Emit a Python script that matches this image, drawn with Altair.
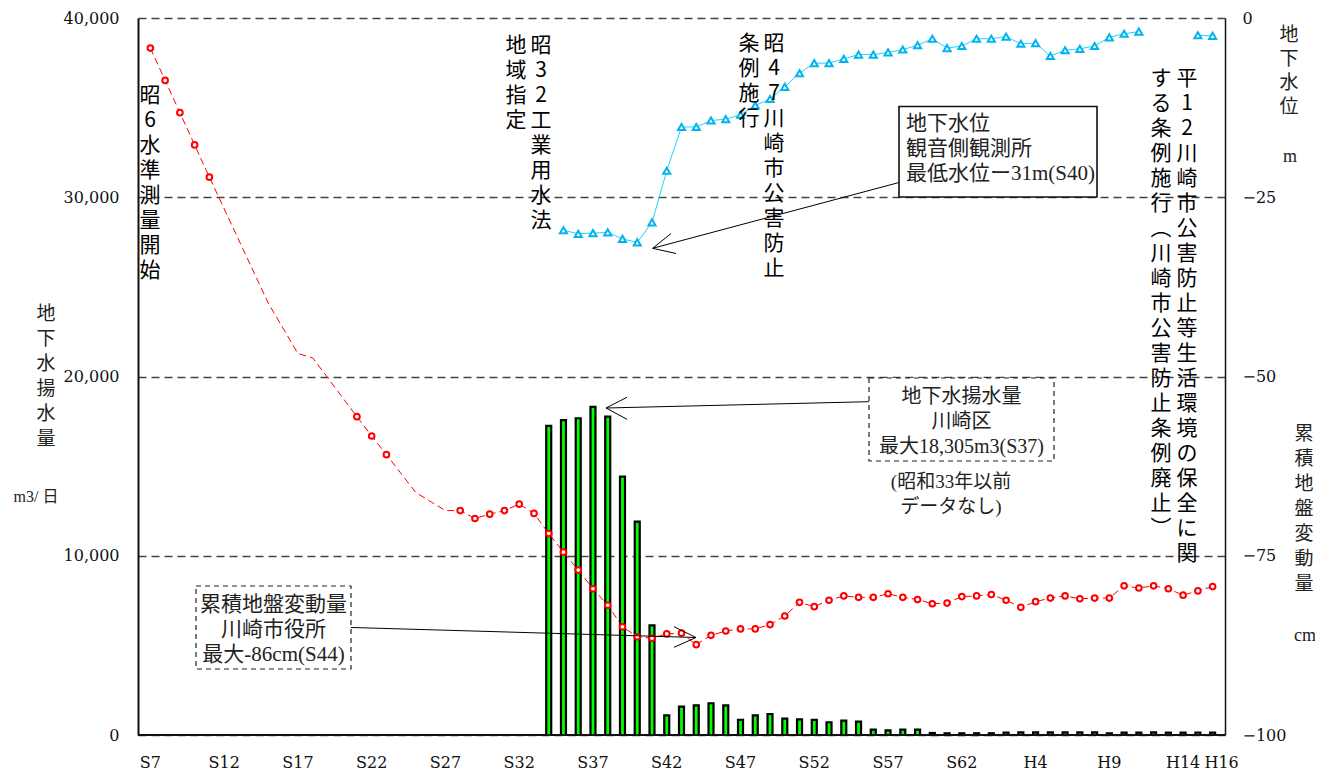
import altair as alt
import pandas as pd

# ---------------- data ----------------
# groundwater pumping, Kawasaki ward (m3/day)
pump_years = list(range(1959, 2005))
pump_values = [17250, 17570, 17670, 18305, 17760, 14410, 11900, 6120, 1100, 1580,
               1655, 1770, 1655, 840, 1100, 1160, 910, 875, 840, 710,
               800, 745, 300, 260, 300, 300, 112, 95, 95, 95,
               95, 130, 150, 150, 150, 150, 150, 150, 95, 130,
               130, 150, 130, 130, 140, 130]

# cumulative ground subsidence, Kawasaki city hall (cm) - measured years (markers)
sub_years = [1932, 1933, 1934, 1935, 1936, 1946, 1947, 1948] + list(range(1953, 2005))
sub_values = [-4.2, -8.7, -13.2, -17.7, -22.2, -55.6, -58.3, -60.9,
              -68.7, -69.8, -69.2, -68.7, -67.8, -69.1, -71.9, -74.5, -77.0, -79.6,
              -81.9, -84.9, -86.3, -86.5, -85.9, -85.8, -87.4, -86.1, -85.5, -85.2,
              -85.2, -84.6, -83.4, -81.5, -82.1, -81.2, -80.6, -80.8, -80.8, -80.3,
              -80.8, -81.1, -81.7, -81.6, -80.7, -80.6, -80.4, -81.2, -82.2, -81.4,
              -80.9, -80.6, -81.0, -80.9, -80.9, -79.2, -79.5, -79.2, -79.6, -80.5,
              -79.9, -79.3]
# line-only vertices (no markers)
gap_years = [1940, 1942, 1943, 1950, 1952]
gap_values = [-39.8, -46.8, -47.4, -66.2, -68.7]

# groundwater level, Kannongawa station (m)
level_years = list(range(1960, 2000)) + [2003, 2004]
level_values = [-29.6, -30.1, -30.0, -29.9, -30.8, -31.3, -28.5, -21.3, -15.2, -15.2,
                -14.3, -14.1, -13.5, -12.2, -11.3, -9.6, -7.7, -6.3, -6.3, -5.7,
                -5.1, -5.1, -4.8, -4.4, -3.8, -2.9, -4.2, -3.9, -2.9, -2.9,
                -2.6, -3.6, -3.5, -5.3, -4.5, -4.3, -3.9, -2.7, -2.2, -1.9,
                -2.4, -2.5]
level_segment = [1 if y < 2000 else 2 for y in level_years]

tick_years = [1932, 1937, 1942, 1947, 1952, 1957, 1962, 1967, 1972, 1977,
              1982, 1987, 1992, 1997, 2002, 2004]
tick_labels = ['S7', 'S12', 'S17', 'S22', 'S27', 'S32', 'S37', 'S42', 'S47', 'S52',
               'S57', 'S62', 'H4', 'H9', 'H14', 'H16']
left_ticks = [0, 10000, 20000, 30000, 40000]
right_ticks = [0, -25, -50, -75, -100]

# ---------------- layout ----------------
PAD_L, PAD_T, PAD_R, PAD_B = 130, 10, 90, 38
W, H = 1087, 717
X0, Y0 = 8 + PAD_L, 8 + PAD_T  # absolute page position of the plot origin

GOTHIC = "Noto Sans CJK JP"
MIX = "Liberation Serif, Noto Sans CJK JP"
AXFONT = "DejaVu Serif"

xscale = alt.Scale(domain=[1931.5, 2004.5], nice=False, zero=False)
lscale = alt.Scale(domain=[0, 40000], nice=False)
rscale = alt.Scale(domain=[-100, 0], nice=False)

left_axis = alt.Axis(values=left_ticks, format=',d', title=None, ticks=False, tickSize=0,
                     labelPadding=19, labelFont=AXFONT, labelFontSize=16, labelColor='#111',
                     grid=True, gridDash=[8, 5], gridColor='#444', gridWidth=1.3, orient='left',
                     domainColor='#111', domainWidth=2, labelFlush=False)

right_axis = alt.Axis(values=right_ticks, orient='right', title=None, ticks=False, tickSize=0,
                      labelPadding=17, labelFont=AXFONT, labelFontSize=16, labelColor='#111',
                      grid=False, domainColor='#111', domainWidth=1.5, labelFlush=False)

# ---------------- data marks ----------------
pump_df = pd.DataFrame({'year': pump_years, 'pump': pump_values})
bars = alt.Chart(pump_df).mark_bar(size=5, fill='#00FF00', stroke='black', strokeWidth=2.2).encode(
    x=alt.X('year:Q', scale=xscale, axis=None),
    y=alt.Y('pump:Q', scale=lscale, axis=left_axis),
)

sub_df = pd.DataFrame({'year': sub_years, 'val': sub_values})
sub_line_df = pd.DataFrame({'year': sub_years + gap_years,
                            'val': sub_values + gap_values}).sort_values('year')
level_df = pd.DataFrame({'year': level_years, 'val': level_values, 'seg': level_segment})

red_line = alt.Chart(sub_line_df).mark_line(color='#FF0000', strokeWidth=1, strokeDash=[7, 4]).encode(
    x=alt.X('year:Q', scale=xscale, axis=None),
    y=alt.Y('val:Q', scale=rscale, axis=right_axis),
    order='year:Q',
)
red_pts = alt.Chart(sub_df).mark_point(shape='circle', size=32, filled=True, fill='white',
                                       stroke='#FF0000', strokeWidth=2, opacity=1).encode(
    x=alt.X('year:Q', scale=xscale, axis=None),
    y=alt.Y('val:Q', scale=rscale, axis=None),
)
blue_line = alt.Chart(level_df).mark_line(color='#22D4FF', strokeWidth=1).encode(
    x=alt.X('year:Q', scale=xscale, axis=None),
    y=alt.Y('val:Q', scale=rscale, axis=None),
    detail='seg:N',
    order='year:Q',
)
blue_pts = alt.Chart(level_df).mark_point(shape='triangle-up', size=50, filled=True, fill='white',
                                          stroke='#00B4F0', strokeWidth=2, opacity=1).encode(
    x=alt.X('year:Q', scale=xscale, axis=None),
    y=alt.Y('val:Q', scale=rscale, axis=None),
)

# ---------------- x axis (labels placed through the x scale) ----------------
ONE = alt.InlineData(values=[{"k": 1}])
tick_df = pd.DataFrame({'year': tick_years, 'label': tick_labels})
x_labels_main = alt.Chart(tick_df).transform_filter('datum.year < 2004').mark_text(
    baseline='top', align='center', font=AXFONT, fontSize=16, color='#111').encode(
    x=alt.X('year:Q', scale=xscale, axis=None), y=alt.value(H + 20), text='label:N')
x_labels_last = alt.Chart(tick_df).transform_filter('datum.year >= 2004').mark_text(
    baseline='top', align='center', font=AXFONT, fontSize=16, color='#111', dx=9).encode(
    x=alt.X('year:Q', scale=xscale, axis=None), y=alt.value(H + 20), text='label:N')
x_domain = alt.Chart(ONE).mark_rule(color='#111', strokeWidth=2).encode(
    x=alt.value(0), x2=alt.value(W), y=alt.value(H))

# ---------------- annotations ----------------


def txt(lines, x, y, size=21, font=GOTHIC, align='center', baseline='top', lh=25, color='black'):
    return alt.Chart(ONE).mark_text(align=align, baseline=baseline, font=font, fontSize=size,
                                    lineHeight=lh, color=color, text=lines).encode(
        x=alt.value(x - X0), y=alt.value(y - Y0))


def seg(x1, y1, x2, y2, width=1.0, color='black'):
    return alt.Chart(ONE).mark_rule(color=color, strokeWidth=width).encode(
        x=alt.value(x1 - X0), y=alt.value(y1 - Y0), x2=alt.value(x2 - X0), y2=alt.value(y2 - Y0))


def box(x1, y1, x2, y2, dash=None, width=1.2, color='#222'):
    kw = dict(fill='white', stroke=color, strokeWidth=width)
    if dash:
        kw['strokeDash'] = dash
    return alt.Chart(ONE).mark_rect(**kw).encode(
        x=alt.value(x1 - X0), y=alt.value(y1 - Y0), x2=alt.value(x2 - X0), y2=alt.value(y2 - Y0))


ann = []
# vertical event notes
ann.append(txt(list("昭6水準測量開始"), 150, 85))
ann.append(txt(list("昭32工業用水法"), 541, 35))
ann.append(txt(list("地域指定"), 516, 35))
ann.append(txt(list("昭47川崎市公害防止"), 774, 33))
ann.append(txt(list("条例施行"), 749, 33))
ann.append(txt(list("平12川崎市公害防止等生活環境の保全に関"), 1187, 68))
ann.append(txt(list("する条例施行︵川崎市公害防止条例廃止︶"), 1161, 68))

# axis titles
ann.append(txt(list("地下水揚水量"), 46, 305, size=19, color='#222'))
ann.append(txt("m3/ 日", 36, 497, size=16, baseline='middle', font=MIX, color='#222'))
ann.append(txt(list("地下水位"), 1289, 26, size=19, lh=24, color='#222'))
ann.append(txt("m", 1290, 157, size=18, baseline='middle', font=MIX, color='#222'))
ann.append(txt(list("累積地盤変動量"), 1304, 425, size=19, color='#222'))
ann.append(txt("cm", 1305, 636, size=18, baseline='middle', font=MIX, color='#222'))

# callout: groundwater level
ann.append(seg(899, 182.5, 652.7, 248.3))
ann.append(seg(652.7, 248.3, 671, 233.5))
ann.append(seg(652.7, 248.3, 676, 253.5))
ann.append(box(899, 106.5, 1097, 197, width=1.6, color='#111'))
ann.append(txt(["地下水位", "観音側観測所", "最低水位ー31m(S40)"], 906, 113, size=21, font=MIX,
               align='left', color='#222'))

# callout: pumping
ann.append(seg(869, 401.7, 606, 408))
ann.append(seg(606, 408, 627, 397.3))
ann.append(seg(606, 408, 627, 419.3))
ann.append(box(869, 378, 1054, 461, dash=[5, 4]))
ann.append(txt(["地下水揚水量", "川崎区", "最大18,305m3(S37)"], 961.5, 387, size=20, font=MIX,
               color='#222'))
ann.append(txt(["(昭和33年以前", "データなし)"], 951, 473, size=19, font=MIX, lh=24.5, color='#222'))

# callout: subsidence
ann.append(seg(335, 627, 696, 637.5))
ann.append(seg(696, 637.5, 674, 626.7))
ann.append(seg(696, 637.5, 674, 647.3))
ann.append(box(196, 586, 351, 669, dash=[5, 4]))
ann.append(txt(["累積地盤変動量", "川崎市役所", "最大-86cm(S44)"], 273.5, 594, size=21, font=MIX,
               color='#222'))

chart = alt.layer(bars, red_line, red_pts, blue_line, blue_pts,
                  x_domain, x_labels_main, x_labels_last, *ann).resolve_scale(
    y='independent').properties(
    width=W, height=H,
    autosize=alt.AutoSizeParams(type='none'),
    padding={"left": PAD_L, "top": PAD_T, "right": PAD_R, "bottom": PAD_B},
    background='white',
).configure_view(stroke=None)

chart.save("out.html", embed_options={"renderer": "svg", "actions": False})
